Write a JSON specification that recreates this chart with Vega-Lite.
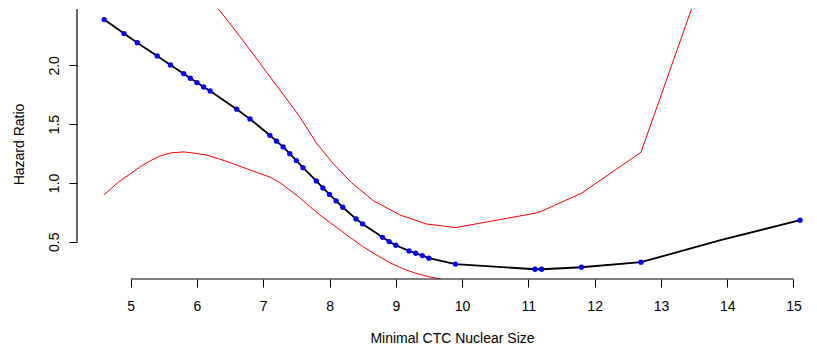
{
  "$schema": "https://vega.github.io/schema/vega-lite/v6.json",
  "width": 740,
  "height": 270,
  "autosize": {"type": "none"},
  "padding": {"left": 77, "top": 9, "right": 0, "bottom": 70},
  "background": "white",
  "config": {
    "view": {"stroke": null},
    "font": "Liberation Sans",
    "axis": {"grid": false, "ticks": true, "labelFont": "Liberation Sans", "titleFont": "Liberation Sans", "labelColor": "#000000", "titleColor": "#000000", "labelFontSize": 14, "titleFontSize": 14, "titleFontWeight": "normal", "tickColor": "black", "tickSize": 8, "tickWidth": 1, "tickOpacity": 1, "domain": false, "labelOverlap": false, "labelFlush": false}
  },
  "datasets": {
    "points": [
      {"x": 4.6, "y": 2.389}, {"x": 4.9, "y": 2.27}, {"x": 5.1, "y": 2.193}, {"x": 5.4, "y": 2.08},
      {"x": 5.6, "y": 2.003}, {"x": 5.8, "y": 1.929}, {"x": 5.9, "y": 1.89}, {"x": 6.0, "y": 1.853},
      {"x": 6.1, "y": 1.816}, {"x": 6.2, "y": 1.782}, {"x": 6.6, "y": 1.627}, {"x": 6.8, "y": 1.544},
      {"x": 7.1, "y": 1.405}, {"x": 7.2, "y": 1.355}, {"x": 7.3, "y": 1.306}, {"x": 7.4, "y": 1.249},
      {"x": 7.5, "y": 1.19}, {"x": 7.6, "y": 1.13}, {"x": 7.8, "y": 1.017}, {"x": 7.9, "y": 0.957},
      {"x": 8.0, "y": 0.902}, {"x": 8.1, "y": 0.847}, {"x": 8.2, "y": 0.793}, {"x": 8.4, "y": 0.694},
      {"x": 8.5, "y": 0.651}, {"x": 8.8, "y": 0.537}, {"x": 8.9, "y": 0.501}, {"x": 9.0, "y": 0.47},
      {"x": 9.2, "y": 0.422}, {"x": 9.3, "y": 0.402}, {"x": 9.4, "y": 0.382}, {"x": 9.5, "y": 0.36},
      {"x": 9.9, "y": 0.31}, {"x": 11.1, "y": 0.266}, {"x": 11.2, "y": 0.266}, {"x": 11.8, "y": 0.283},
      {"x": 12.7, "y": 0.326}, {"x": 15.1, "y": 0.683}
    ],
    "estimate": [
      {"x": 4.6, "y": 2.389}, {"x": 4.9, "y": 2.27}, {"x": 5.1, "y": 2.193}, {"x": 5.4, "y": 2.08},
      {"x": 5.6, "y": 2.003}, {"x": 5.8, "y": 1.929}, {"x": 5.9, "y": 1.89}, {"x": 6.0, "y": 1.853},
      {"x": 6.1, "y": 1.816}, {"x": 6.2, "y": 1.782}, {"x": 6.6, "y": 1.627}, {"x": 6.8, "y": 1.544},
      {"x": 7.1, "y": 1.405}, {"x": 7.2, "y": 1.355}, {"x": 7.3, "y": 1.306}, {"x": 7.4, "y": 1.249},
      {"x": 7.5, "y": 1.19}, {"x": 7.6, "y": 1.13}, {"x": 7.8, "y": 1.017}, {"x": 7.9, "y": 0.957},
      {"x": 8.0, "y": 0.902}, {"x": 8.1, "y": 0.847}, {"x": 8.2, "y": 0.793}, {"x": 8.4, "y": 0.694},
      {"x": 8.5, "y": 0.651}, {"x": 8.8, "y": 0.537}, {"x": 8.9, "y": 0.501}, {"x": 9.0, "y": 0.47},
      {"x": 9.2, "y": 0.422}, {"x": 9.3, "y": 0.402}, {"x": 9.4, "y": 0.382}, {"x": 9.5, "y": 0.36},
      {"x": 9.9, "y": 0.31}, {"x": 11.1, "y": 0.266}, {"x": 11.2, "y": 0.266}, {"x": 11.8, "y": 0.283},
      {"x": 12.7, "y": 0.326}, {"x": 13.9, "y": 0.513}, {"x": 15.1, "y": 0.683}
    ],
    "ci": [
      {"band": "upper", "x": 4.6, "y": 4.6}, {"band": "upper", "x": 5.5, "y": 3.4}, {"band": "upper", "x": 6.0, "y": 2.75},
      {"band": "upper", "x": 6.2, "y": 2.57}, {"band": "upper", "x": 6.336, "y": 2.471}, {"band": "upper", "x": 6.65, "y": 2.244},
      {"band": "upper", "x": 6.95, "y": 2.018}, {"band": "upper", "x": 7.25, "y": 1.791}, {"band": "upper", "x": 7.55, "y": 1.564},
      {"band": "upper", "x": 7.8, "y": 1.34}, {"band": "upper", "x": 8.05, "y": 1.168}, {"band": "upper", "x": 8.33, "y": 1.003},
      {"band": "upper", "x": 8.66, "y": 0.85}, {"band": "upper", "x": 9.06, "y": 0.728}, {"band": "upper", "x": 9.46, "y": 0.651},
      {"band": "upper", "x": 9.9, "y": 0.62}, {"band": "upper", "x": 11.1, "y": 0.742}, {"band": "upper", "x": 11.2, "y": 0.76},
      {"band": "upper", "x": 11.8, "y": 0.912}, {"band": "upper", "x": 12.7, "y": 1.261}, {"band": "upper", "x": 15.1, "y": 5.1},
      {"band": "lower", "x": 4.6, "y": 0.9}, {"band": "lower", "x": 4.8, "y": 1.0}, {"band": "lower", "x": 5.0, "y": 1.08},
      {"band": "lower", "x": 5.15, "y": 1.14}, {"band": "lower", "x": 5.3, "y": 1.19}, {"band": "lower", "x": 5.45, "y": 1.23},
      {"band": "lower", "x": 5.6, "y": 1.255}, {"band": "lower", "x": 5.8, "y": 1.264}, {"band": "lower", "x": 6.0, "y": 1.25},
      {"band": "lower", "x": 6.15, "y": 1.236}, {"band": "lower", "x": 6.3, "y": 1.21}, {"band": "lower", "x": 6.5, "y": 1.173},
      {"band": "lower", "x": 6.8, "y": 1.11}, {"band": "lower", "x": 7.1, "y": 1.05}, {"band": "lower", "x": 7.25, "y": 1.003},
      {"band": "lower", "x": 7.4, "y": 0.94}, {"band": "lower", "x": 7.55, "y": 0.875}, {"band": "lower", "x": 7.7, "y": 0.8},
      {"band": "lower", "x": 7.85, "y": 0.73}, {"band": "lower", "x": 8.0, "y": 0.665}, {"band": "lower", "x": 8.15, "y": 0.605},
      {"band": "lower", "x": 8.3, "y": 0.54}, {"band": "lower", "x": 8.5, "y": 0.46}, {"band": "lower", "x": 8.7, "y": 0.39},
      {"band": "lower", "x": 8.9, "y": 0.325}, {"band": "lower", "x": 9.1, "y": 0.272}, {"band": "lower", "x": 9.3, "y": 0.232},
      {"band": "lower", "x": 9.5, "y": 0.202}, {"band": "lower", "x": 9.7, "y": 0.18}, {"band": "lower", "x": 9.9, "y": 0.165},
      {"band": "lower", "x": 11.1, "y": 0.1}, {"band": "lower", "x": 11.8, "y": 0.08}, {"band": "lower", "x": 12.7, "y": 0.08},
      {"band": "lower", "x": 15.1, "y": 0.1}
    ],
    "axislines": [
      {"x": 5, "x2": 15, "y": 0.183, "y2": 0.183},
      {"x": 4.19, "x2": 4.19, "y": 0.5, "y2": 2.479}
    ]
  },
  "layer": [
    {
      "mark": {"type": "rule", "color": "#808080", "strokeWidth": 1.5, "strokeDash": [4, 3]},
      "encoding": {"y": {"datum": 1, "type": "quantitative", "scale": {"domain": [0.183, 2.479], "nice": false, "zero": false}}}
    },
    {
      "data": {"name": "ci"},
      "mark": {"type": "line", "color": "#FF0000", "strokeWidth": 1, "clip": true},
      "encoding": {
        "x": {"field": "x", "type": "quantitative"},
        "y": {"field": "y", "type": "quantitative"},
        "detail": {"field": "band"}
      }
    },
    {
      "data": {"name": "estimate"},
      "mark": {"type": "line", "color": "#000000", "strokeWidth": 1.8, "clip": true},
      "encoding": {
        "x": {"field": "x", "type": "quantitative"},
        "y": {"field": "y", "type": "quantitative"}
      }
    },
    {
      "data": {"name": "points"},
      "mark": {"type": "circle", "color": "#0000FF", "opacity": 1, "size": 28, "clip": true},
      "encoding": {
        "x": {"field": "x", "type": "quantitative",
          "scale": {"domain": [4.19, 15.355], "nice": false, "zero": false},
          "axis": {"values": [5, 6, 7, 8, 9, 10, 11, 12, 13, 14, 15], "format": "d", "ticks": true, "tickSize": 8, "tickColor": "black", "labelPadding": 12, "title": "Minimal CTC Nuclear Size", "titleX": 375, "titleY": 63, "titleBaseline": "alphabetic", "titleAlign": "center", "titleAnchor": null}},
        "y": {"field": "y", "type": "quantitative",
          "axis": {"values": [0.5, 1.0, 1.5, 2.0], "format": ".1f", "ticks": true, "tickSize": 8, "tickColor": "black", "labelAngle": -90, "labelAlign": "center", "labelBaseline": "alphabetic", "labelPadding": 11, "title": "Hazard Ratio", "titleX": -54, "titleY": 135, "titleAngle": -90, "titleBaseline": "alphabetic", "titleAlign": "center"}}
      }
    },
    {
      "data": {"name": "axislines"},
      "mark": {"type": "rule", "color": "#000000", "strokeWidth": 1.2},
      "encoding": {
        "x": {"field": "x", "type": "quantitative"},
        "x2": {"field": "x2"},
        "y": {"field": "y", "type": "quantitative"},
        "y2": {"field": "y2"}
      }
    }
  ]
}
